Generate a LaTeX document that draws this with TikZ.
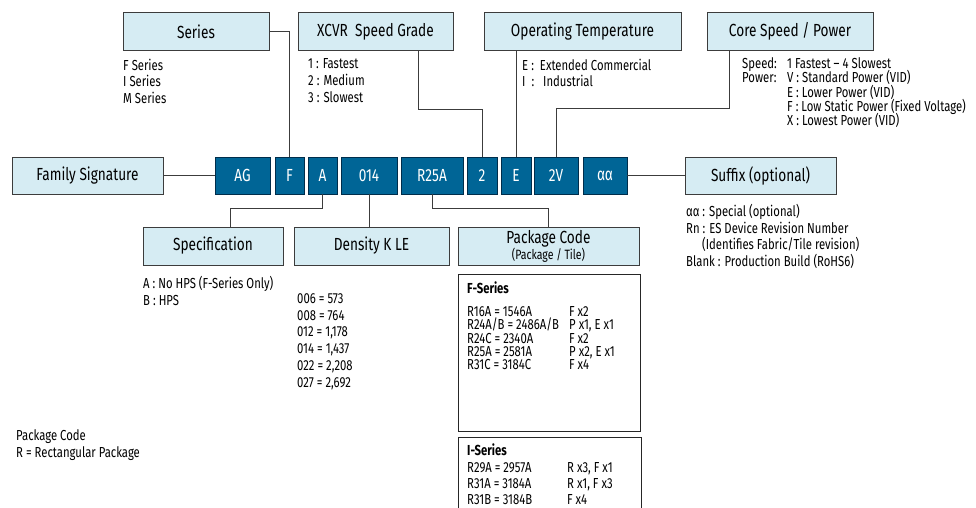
\documentclass[tikz,border=0pt]{standalone}
\usepackage{fontspec}
\setmainfont{Fira Sans}[FakeStretch=0.78]
\usetikzlibrary{calc}

\definecolor{headfill}{RGB}{214,236,243}
\definecolor{chipfill}{RGB}{0,101,150}
\definecolor{chipline}{RGB}{0,45,75}
\definecolor{linegray}{RGB}{60,60,60}

\newcommand\hfont{\fontsize{17.5}{20}\selectfont}
\newcommand\lfont{\fontsize{14.5}{16.7}\selectfont}
\newcommand\sfont{\fontsize{14.5}{14.3}\selectfont}
\lineskiplimit=-20pt

\begin{document}
\begin{tikzpicture}[x=1pt, y=-1pt,
  head/.style={draw=linegray, fill=headfill, line width=0.8pt, inner sep=0, minimum height=38pt, font=\hfont},
  chip/.style={draw=chipline, fill=chipfill, line width=0.8pt, inner sep=0, minimum height=37pt, text=white, font=\hfont},
  list/.style={anchor=north west, align=left, inner sep=0, font=\lfont},
  link/.style={draw=linegray, line width=0.8pt}]
\useasboundingbox (0,0) rectangle (976,508);

% top row
\node[head, minimum width=146pt] (series) at (196,31.5) {Series};
\node[head, minimum width=155pt] (xcvr) at (375.5,31.5) {XCVR\ \ Speed Grade};
\node[head, minimum width=197pt] (optemp) at (582.5,31.5) {Operating Temperature};
\node[head, minimum width=166pt] (core) at (790,31.5) {Core Speed / Power};

\node[list] (serieslist) at (123,58.5) {F Series\\ I Series\\ M Series};
\node[list] (xcvrlist) at (308,58.5) {1 : Fastest\\ 2 : Medium\\ 3 : Slowest};
\node[list] (optemplist) at (522,58.5) {E :\ \ Extended Commercial\\ I\ \ :\ \ \ Industrial};
\node[list, font=\sfont] (corelist) at (742,57.5) {\makebox[45pt][l]{Speed:}1 Fastest – 4 Slowest\\
  \makebox[45pt][l]{Power:}V : Standard Power (VID)\\
  \hspace*{45pt}E : Lower Power (VID)\\
  \hspace*{45pt}F : Low Static Power (Fixed Voltage)\\
  \hspace*{45pt}X : Lowest Power (VID)};

% part number
\node[head, minimum width=151pt, minimum height=37pt] (famsig) at (87.5,175.5) {Family Signature};
\foreach \n/\t/\c/\w in {ag/AG/242.5/55pt, f/F/289.5/29pt, a/A/322.5/29pt, dens/014/369/56pt,
  pkgc/R25A/432/62pt, two/2/482/30pt, e/E/516/30pt, tv/2V/556/44pt, aa/αα/605/44pt}
  \node[chip, minimum width=\w] (\n) at (\c,175.5) {\t};
\node[head, minimum width=151pt, minimum height=37pt] (suffix) at (760.5,175.5) {Suffix (optional)};

\node[list, font=\fontsize{14.5}{16.4}\selectfont] (suffixlist) at (686,204.5) {αα : Special (optional)\\
  Rn : ES Device Revision Number\\
  \hspace*{16pt}(Identifies Fabric/Tile revision)\\
  Blank : Production Build (RoHS6)};

% bottom row
\node[head, minimum width=140pt] (spec) at (213,246) {Specification};
\node[head, minimum width=155pt] (density) at (371.5,246) {Density K LE};
\node[head, minimum width=181pt, align=center] (pkg) at (548.5,246)
  {Package Code\\[-4pt]{\fontsize{13.5}{14}\selectfont (Package / Tile)}};

\node[list] (speclist) at (143,276.5) {A : No HPS (F-Series Only)\\ B : HPS};
\node[list] (denslist) at (297,293.5) {006 = 573\\ 008 = 764\\ 012 = 1,178\\ 014 = 1,437\\ 022 = 2,208\\ 027 = 2,692};

\node[draw=black!85, line width=0.8pt, minimum width=182pt, minimum height=157pt, anchor=north west] (fbox) at (458,274) {};
\node[list, font=\fontsize{14.5}{13.4}\selectfont] (flist) at (467,281.5) {\textbf{F-Series}\\[9.5pt]
  \makebox[102pt][l]{R16A = 1546A}F x2\\
  \makebox[102pt][l]{R24A/B = 2486A/B}P x1, E x1\\
  \makebox[102pt][l]{R24C = 2340A}F x2\\
  \makebox[102pt][l]{R25A = 2581A}P x2, E x1\\
  \makebox[102pt][l]{R31C = 3184C}F x4};

\node[draw=black!85, line width=0.8pt, minimum width=183pt, minimum height=80pt, anchor=north west] (ibox) at (458,437) {};
\node[list, font=\fontsize{14.5}{16.3}\selectfont] (ilist) at (467,444) {\textbf{I-Series}\\
  \makebox[100pt][l]{R29A = 2957A}R x3, F x1\\
  \makebox[100pt][l]{R31A = 3184A}R x1, F x3\\
  \makebox[100pt][l]{R31B = 3184B}F x4};

\node[list] (pcnote) at (16,429.5) {Package Code\\ R = Rectangular Package};

% connectors
\draw[link] (series.east) -| (f.north);
\draw[link] ([xshift=42.5pt]xcvr.south) |- ([yshift=47pt]two.north) -- (two.north);
\draw[link] (e.north) -- (e.north |- optemp.south);
\draw[link] ([xshift=-61pt]core.south) |- ([yshift=48pt]tv.north) -- (tv.north);
\draw[link] (famsig.east) -- (ag.west);
\draw[link] (aa.east) -- (suffix.west);
\draw[link] (a.south) |- ([xshift=17pt,yshift=18pt]spec.north) -- ([xshift=17pt]spec.north);
\draw[link] (dens.south) -- (dens.south |- density.north);
\draw[link] (pkgc.south) |- ([yshift=18pt]pkg.north) -- (pkg.north);
\end{tikzpicture}
\end{document}
